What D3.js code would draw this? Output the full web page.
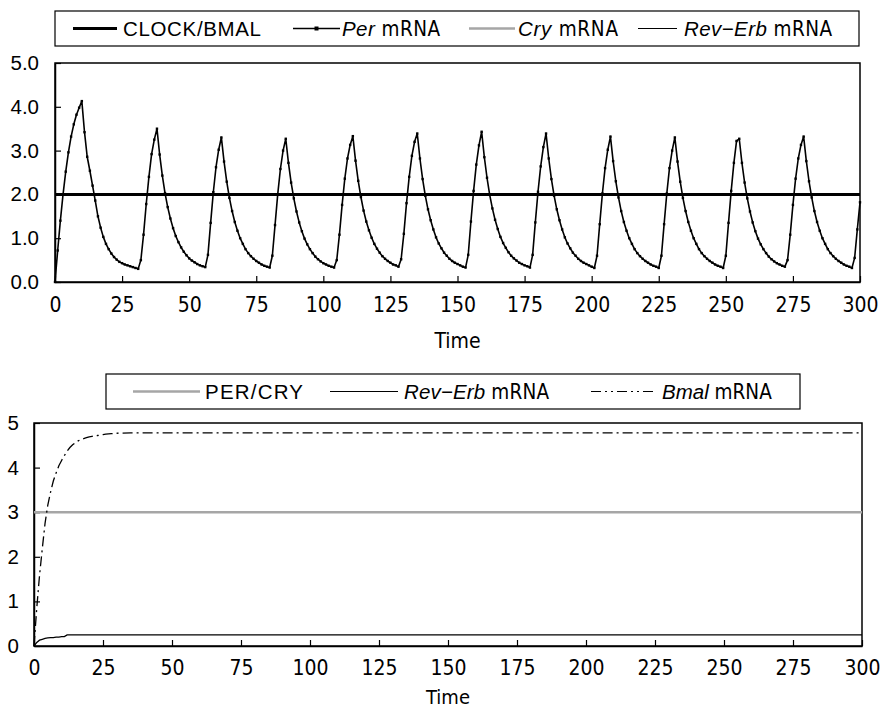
<!DOCTYPE html>
<html>
<head>
<meta charset="utf-8">
<script src="https://cdn.jsdelivr.net/npm/d3@7"></script>
<style>
  body { margin: 0; background: #fff; }
  svg { display: block; }
  .tick text { fill: #000; }
</style>
</head>
<body>
<svg id="chart" width="882" height="709"></svg>
<script>
// ---- data ----
const timeTicks = [0, 25, 50, 75, 100, 125, 150, 175, 200, 225, 250, 275, 300];
const topYTicks = [0, 1, 2, 3, 4, 5];
const bottomYTicks = [0, 1, 2, 3, 4, 5];

// upper panel: constant CLOCK/BMAL level
const clockTime = [0, 300];
const clockValue = [2.0, 2.0];

// upper panel: Per mRNA, one sample per time unit (t = 0 … 300)
const perMrna = [
  0.00,0.72,1.40,2.00,2.52,2.96,3.32,3.60,3.82,3.98,4.13,
  3.42,2.86,2.54,2.20,1.86,1.50,1.24,1.03,0.87,0.75,0.65,0.57,0.51,0.46,0.43,0.40,0.38,0.36,0.34,0.32,0.30,
  0.50,1.08,1.78,2.40,2.92,3.25,3.50,
  2.91,2.43,2.03,1.71,1.45,1.23,1.05,0.91,0.79,0.69,0.61,0.54,0.49,0.45,0.41,0.38,0.36,0.34,
  0.62,1.35,2.05,2.62,3.02,3.30,
  2.75,2.29,1.92,1.62,1.37,1.17,1.00,0.87,0.75,0.66,0.59,0.53,0.48,0.44,0.40,0.37,0.35,0.33,
  0.60,1.30,2.00,2.58,3.00,3.27,
  2.72,2.27,1.91,1.61,1.36,1.16,0.99,0.86,0.75,0.66,0.58,0.52,0.47,0.43,0.40,0.37,0.35,0.33,
  0.50,1.08,1.76,2.36,2.82,3.13,3.33,
  2.77,2.31,1.94,1.63,1.38,1.18,1.01,0.87,0.76,0.67,0.59,0.53,0.48,0.44,0.40,0.38,0.35,
  0.52,1.10,1.80,2.40,2.88,3.20,3.39,
  2.82,2.35,1.97,1.66,1.41,1.20,1.02,0.88,0.77,0.67,0.60,0.53,0.48,0.44,0.41,0.38,0.35,0.33,
  0.62,1.38,2.08,2.68,3.12,3.43,
  2.85,2.38,1.99,1.68,1.42,1.21,1.03,0.89,0.78,0.68,0.60,0.54,0.49,0.44,0.41,0.38,0.36,0.33,
  0.62,1.36,2.06,2.64,3.08,3.39,
  2.82,2.35,1.97,1.66,1.41,1.20,1.02,0.88,0.77,0.67,0.60,0.53,0.48,0.44,0.41,0.38,0.35,0.32,
  0.60,1.32,2.02,2.60,3.02,3.32,
  2.76,2.30,1.93,1.62,1.37,1.17,1.00,0.87,0.75,0.66,0.59,0.53,0.48,0.44,0.40,0.37,0.35,0.32,
  0.60,1.32,2.02,2.60,3.00,3.30,
  2.75,2.29,1.92,1.62,1.37,1.17,1.00,0.87,0.75,0.66,0.59,0.53,0.48,0.44,0.40,0.37,0.35,0.32,
  0.60,1.35,2.08,2.72,3.22,3.27,
  2.72,2.27,1.91,1.61,1.36,1.16,0.99,0.86,0.75,0.66,0.58,0.52,0.47,0.43,0.40,0.37,0.35,
  0.50,1.08,1.76,2.36,2.82,3.13,3.32,
  2.76,2.30,1.93,1.62,1.37,1.17,1.00,0.87,0.75,0.66,0.59,0.53,0.48,0.44,0.40,0.37,0.35,0.32,
  0.55,1.20,1.82
];

// lower panel
const perCryTime = [0, 300];
const perCryValue = [3.0, 3.0];

const revErbTime  = [0, 1, 2, 3, 4, 5, 6, 7, 8, 9, 10, 11, 12, 300];
const revErbValue = [0, 0.08, 0.13, 0.15, 0.17, 0.18, 0.19, 0.19, 0.20, 0.20, 0.21, 0.21, 0.25, 0.25];

const bmalTime  = [0, 1, 2, 3, 4, 5, 6, 7, 8, 9, 10, 11, 12, 13, 14, 15, 16, 17, 18, 19, 20,
                   21, 22, 23, 24, 25, 26, 28, 30, 35, 300];
const bmalValue = [0, 0.85, 1.58, 2.18, 2.75, 3.16, 3.45, 3.70, 3.88, 4.04, 4.16, 4.27, 4.37,
                   4.45, 4.51, 4.56, 4.60, 4.63, 4.65, 4.67, 4.69, 4.70, 4.71, 4.72, 4.73,
                   4.74, 4.75, 4.76, 4.77, 4.78, 4.78];

// ---- drawing ----
const svg = d3.select("#chart");
const SANS = "'Liberation Sans', Arial, sans-serif";
const NARROW = "'Liberation Sans Narrow', 'DejaVu Sans Condensed', 'Liberation Sans', sans-serif";
const GRAY = "#a6a6a6";

const zip = (xs, ys) => xs.map((x, i) => [x, ys[i]]);

function panel(cfg) {
  const x = d3.scaleLinear().domain([0, 300]).range([cfg.left, cfg.right]);
  const y = d3.scaleLinear().domain([0, 5]).range([cfg.bottom, cfg.top]);
  const g = svg.append("g");

  // frame
  g.append("rect")
    .attr("x", cfg.left).attr("y", cfg.top)
    .attr("width", cfg.right - cfg.left).attr("height", cfg.bottom - cfg.top)
    .attr("fill", "none").attr("stroke", "#000").attr("stroke-width", 1.5);

  // x axis with inside ticks
  const xa = g.append("g").attr("transform", `translate(0,${cfg.bottom})`)
    .call(d3.axisBottom(x).tickValues(timeTicks).tickSizeInner(-6).tickSizeOuter(0)
      .tickPadding(cfg.xPad).tickFormat(d3.format("d")));
  xa.select(".domain").attr("stroke", "#000").attr("stroke-width", 1.5);
  xa.selectAll(".tick line").attr("stroke", "#000").attr("stroke-width", 1.2);
  xa.selectAll(".tick text").attr("font-family", NARROW).attr("font-size", 21);

  // y axis with inside ticks
  const ya = g.append("g").attr("transform", `translate(${cfg.left},0)`)
    .call(d3.axisLeft(y).tickValues(cfg.yTicks).tickSizeInner(-6).tickSizeOuter(0)
      .tickPadding(cfg.yPad).tickFormat(cfg.yFormat));
  ya.select(".domain").attr("stroke", "#000").attr("stroke-width", 1.5);
  ya.selectAll(".tick line").attr("stroke", "#000").attr("stroke-width", 1.2);
  ya.selectAll(".tick text").attr("font-family", SANS).attr("font-size", 20.5);

  // axis title
  g.append("text")
    .attr("x", (cfg.left + cfg.right) / 2 + cfg.titleDx).attr("y", cfg.titleY)
    .attr("text-anchor", "middle")
    .attr("font-family", NARROW).attr("font-size", cfg.titleSize)
    .text("Time");

  return { x, y, g };
}

function legendBox(box, items) {
  const g = svg.append("g");
  g.append("rect")
    .attr("x", box.x).attr("y", box.y).attr("width", box.w).attr("height", box.h)
    .attr("fill", "#fff").attr("stroke", "#000").attr("stroke-width", 1.2);
  const cy = box.y + box.h / 2;
  items.forEach(it => {
    g.append("line")
      .attr("x1", it.x1).attr("x2", it.x2).attr("y1", cy).attr("y2", cy)
      .attr("stroke", it.color).attr("stroke-width", it.width)
      .attr("stroke-dasharray", it.dash || null);
    if (it.marker) {
      g.append("rect")
        .attr("x", (it.x1 + it.x2) / 2 - 2).attr("y", cy - 2)
        .attr("width", 4).attr("height", 4).attr("fill", "#000");
    }
    const t = g.append("text")
      .attr("x", it.tx).attr("y", cy + 7.5)
      .attr("font-family", SANS).attr("font-size", 20.5);
    if (it.w) t.attr("textLength", it.w).attr("lengthAdjust", "spacing");
    if (it.italic) {
      t.append("tspan").attr("font-style", "italic").text(it.italic);
      t.append("tspan").attr("font-family", NARROW).text("\u00a0" + it.rest);
    } else {
      t.text(it.label);
    }
  });
}

// ---------- upper panel ----------
const upper = panel({
  left: 55, right: 860, top: 63, bottom: 282,
  yTicks: topYTicks, yFormat: d3.format(".1f"),
  xPad: 15, yPad: 16, titleY: 348, titleDx: 0, titleSize: 21
});

const lineUpper = d3.line().x(d => upper.x(d[0])).y(d => upper.y(d[1]));

upper.g.append("path")
  .datum(zip(clockTime, clockValue))
  .attr("d", lineUpper).attr("fill", "none")
  .attr("stroke", "#000").attr("stroke-width", 3);

const perPoints = perMrna.map((v, i) => [i, v]);
upper.g.append("path")
  .datum(perPoints)
  .attr("d", lineUpper).attr("fill", "none")
  .attr("stroke", "#000").attr("stroke-width", 1.6).attr("stroke-linejoin", "round");

upper.g.selectAll("rect.pm")
  .data(perPoints).enter().append("rect")
  .attr("class", "pm")
  .attr("x", d => upper.x(d[0]) - 1.2).attr("y", d => upper.y(d[1]) - 1.2)
  .attr("width", 2.4).attr("height", 2.4).attr("fill", "#000");

legendBox({ x: 55, y: 11, w: 804, h: 35 }, [
  { x1: 73, x2: 117, color: "#000", width: 3, tx: 123, w: 138, label: "CLOCK/BMAL" },
  { x1: 293, x2: 340, color: "#000", width: 1.5, marker: true, tx: 342, w: 98, italic: "Per", rest: "mRNA" },
  { x1: 469, x2: 515, color: GRAY, width: 2.5, tx: 518, w: 100, italic: "Cry", rest: "mRNA" },
  { x1: 638, x2: 677, color: "#000", width: 1.2, tx: 684, w: 148, italic: "Rev\u2212Erb", rest: "mRNA" }
]);

// ---------- lower panel ----------
const lower = panel({
  left: 34, right: 862, top: 423, bottom: 646,
  yTicks: bottomYTicks, yFormat: d3.format("d"),
  xPad: 14, yPad: 15, titleY: 704, titleDx: 0, titleSize: 20
});

const lineLower = d3.line().x(d => lower.x(d[0])).y(d => lower.y(d[1]));

lower.g.append("path")
  .datum(zip(perCryTime, perCryValue))
  .attr("d", lineLower).attr("fill", "none")
  .attr("stroke", GRAY).attr("stroke-width", 2.5);

lower.g.append("path")
  .datum(zip(revErbTime, revErbValue))
  .attr("d", lineLower).attr("fill", "none")
  .attr("stroke", "#000").attr("stroke-width", 1.3);

lower.g.append("path")
  .datum(zip(bmalTime, bmalValue))
  .attr("d", lineLower).attr("fill", "none")
  .attr("stroke", "#000").attr("stroke-width", 1.3)
  .attr("stroke-dasharray", "10,4,2,4");

legendBox({ x: 106, y: 374, w: 694, h: 35 }, [
  { x1: 133, x2: 200, color: GRAY, width: 2.5, tx: 205, w: 98, label: "PER/CRY" },
  { x1: 330, x2: 398, color: "#000", width: 1.2, tx: 404, w: 145, italic: "Rev\u2212Erb", rest: "mRNA" },
  { x1: 591, x2: 655, color: "#000", width: 1.2, dash: "10,4,2,4,2,4", tx: 662, italic: "Bmal", rest: "mRNA" }
]);
</script>
</body>
</html>
